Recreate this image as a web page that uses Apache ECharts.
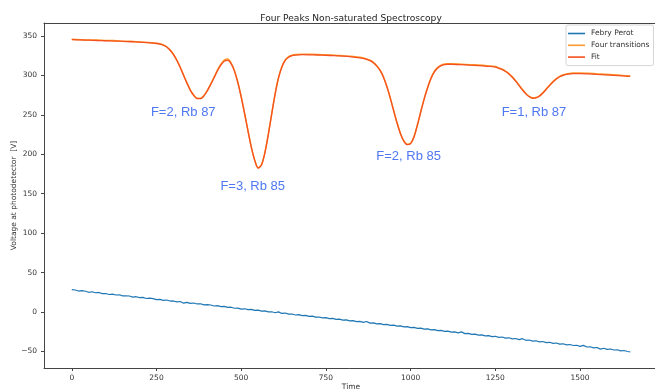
<!DOCTYPE html>
<html>
<head>
<meta charset="utf-8">
<script src="https://cdn.jsdelivr.net/npm/echarts@6/dist/echarts.min.js"></script>
<style>html,body{margin:0;padding:0;background:#fff;}#c{width:655px;height:392px;}</style>
</head>
<body>
<div id="c"></div>
<script>
// ---- Data ----
const fpTime = [0,10,20,30,40,50,60,70,80,90,100,110,120,130,140,150,160,170,180,190,
  200,210,220,230,240,250,260,270,280,290,300,310,320,330,340,350,360,370,380,390,
  400,410,420,430,440,450,460,470,480,490,500,510,520,530,540,550,560,570,580,590,
  600,610,620,630,640,650,660,670,680,690,700,710,720,730,740,750,760,770,780,790,
  800,810,820,830,840,850,860,870,880,890,900,910,920,930,940,950,960,970,980,990,
  1000,1010,1020,1030,1040,1050,1060,1070,1080,1090,1100,1110,1120,1130,1140,1150,1160,1170,1180,1190,
  1200,1210,1220,1230,1240,1250,1260,1270,1280,1290,1300,1310,1320,1330,1340,1350,1360,1370,1380,1390,
  1400,1410,1420,1430,1440,1450,1460,1470,1480,1490,1500,1510,1520,1530,1540,1550,1560,1570,1580,1590,
  1600,1610,1620,1630,1640,1648];
const fpValues = [28.4,27.9,26.6,27.2,26.3,25.0,25.7,24.4,24.8,23.3,23.5,22.2,22.7,21.6,21.9,20.4,20.6,20.3,18.9,19.4,
  18.2,18.6,17.1,17.5,16.9,15.7,16.1,14.8,15.2,13.9,14.0,12.8,13.3,11.2,12.3,10.9,11.4,10.2,10.5,9.1,
  9.3,8.9,7.6,8.0,6.8,7.1,5.9,6.1,4.8,5.0,3.7,4.1,3.0,3.3,2.0,2.3,1.1,1.4,0.1,0.3,
  -0.9,0.2,-1.8,-1.3,-2.7,-2.5,-3.8,-3.3,-4.6,-4.3,-5.6,-5.2,-6.5,-6.3,-7.5,-7.1,-8.4,-8.1,-9.4,-9.0,
  -10.3,-10.0,-11.3,-10.9,-12.2,-11.9,-13.2,-12.0,-14.1,-13.8,-15.1,-14.7,-16.0,-15.6,-17.0,-16.6,-17.9,-17.5,-18.9,-18.5,
  -19.8,-19.4,-20.8,-20.4,-21.7,-21.3,-22.7,-22.3,-23.6,-23.2,-24.5,-24.2,-25.5,-25.1,-26.4,-25.2,-27.4,-27.0,-28.3,-28.0,
  -29.3,-28.9,-30.2,-29.9,-31.2,-30.8,-32.1,-31.7,-33.1,-32.7,-34.0,-33.6,-35.0,-33.8,-35.9,-35.5,-36.9,-36.5,-37.8,-37.4,
  -38.8,-38.4,-39.7,-39.3,-40.7,-40.3,-41.6,-41.2,-42.5,-42.2,-43.5,-42.3,-44.4,-44.1,-45.4,-45.0,-47.1,-46.0,-47.3,-46.9,
  -48.2,-47.9,-49.2,-48.8,-50.1,-50.6];

const specTime = [0,25,50,75,100,125,150,175,200,225,
  250,260,270,280,290,300,310,320,330,340,
  350,360,370,380,390,400,410,420,430,440,
  450,460,470,480,490,500,510,520,530,540,
  550,560,570,580,590,600,610,620,630,640,
  650,660,680,700,725,750,775,800,825,850,
  860,870,880,890,900,910,920,930,940,950,
  960,970,980,990,1000,1010,1020,1030,1040,1050,
  1060,1070,1080,1090,1100,1110,1125,1150,1175,1200,
  1225,1250,1260,1270,1280,1290,1300,1310,1320,1330,
  1340,1350,1360,1370,1380,1390,1400,1410,1420,1430,
  1440,1450,1460,1470,1480,1500,1525,1550,1575,1600,
  1625,1648];
const fitValues = [345.3,345.0,344.7,344.3,344.0,343.6,343.2,342.7,342.2,341.5,
  340.5,339.8,338.5,336.0,332.0,326.5,319.0,310.0,300.0,290.0,
  281.0,274.5,270.5,270.5,274.0,280.5,288.5,297.0,306.0,313.0,
  318.0,319.0,315.0,305.5,291.0,272.5,251.5,229.5,208.5,192.0,
  182.5,186.5,202.0,225.0,251.0,276.0,296.5,310.5,319.0,323.0,
  325.0,325.8,326.3,326.2,325.9,325.5,325.0,324.4,323.6,322.4,
  321.6,320.4,318.7,316.0,311.8,306.0,297.5,285.5,271.0,255.0,
  239.5,226.0,216.5,212.2,213.5,222.0,237.0,254.0,270.0,284.0,
  296.0,304.5,309.5,312.5,313.8,314.2,314.1,313.6,313.0,312.4,
  311.6,310.6,309.0,307.4,305.0,301.9,297.7,292.7,287.2,281.6,
  276.6,272.9,271.0,271.4,273.6,277.5,282.2,287.1,291.7,295.4,
  298.3,300.2,301.3,302.0,302.3,302.4,302.0,301.4,300.8,300.1,
  299.4,298.7];
const dataValues = [346.0,345.4,344.9,345.1,344.3,344.2,343.5,343.3,342.5,341.9,
  340.9,340.3,338.7,336.4,332.5,326.9,319.6,310.4,300.5,290.6,
  281.4,275.1,271.0,271.1,274.5,281.1,289.1,297.8,307.0,314.3,
  319.6,320.8,316.0,306.2,291.5,273.0,252.0,230.0,209.0,192.6,
  183.0,187.0,202.6,225.5,251.6,276.6,297.2,311.2,319.8,323.8,
  325.6,326.5,327.0,326.8,326.6,326.1,325.7,325.0,324.3,323.0,
  322.2,321.0,319.3,316.6,312.3,306.6,298.0,286.0,271.5,255.5,
  240.0,226.5,217.0,212.8,214.0,222.5,237.5,254.5,270.6,284.6,
  296.6,305.1,310.2,313.1,314.5,314.8,314.8,314.3,313.7,313.1,
  312.3,311.2,309.6,308.0,305.6,302.5,298.3,293.3,287.8,282.2,
  277.2,273.5,271.6,272.0,274.2,278.1,282.8,287.7,292.3,296.0,
  298.9,300.8,302.0,302.6,303.0,303.0,302.7,302.0,301.5,300.8,
  300.0,299.2];

const xTicks = [0,250,500,750,1000,1250,1500];
const yTicks = [-50,0,50,100,150,200,250,300,350];

const labelText = ['F=2, Rb 87','F=3, Rb 85','F=2, Rb 85','F=1, Rb 87'];
const labelX = [235,440,900,1270];
const labelY = [244,151,189,244];

const seriesNames = ['Febry Perot','Four transitions','Fit'];
const seriesColors = ['#1f77b4','#ff9a2e','#f4511e'];

// ---- Build ----
const zip = (xs, ys) => xs.map((x, i) => [x, ys[i]]);
const axisFont = {fontFamily:'DejaVu Sans', fontSize:7.5, color:'#333'};

const chart = echarts.init(document.getElementById('c'), null, {renderer:'canvas'});
chart.setOption({
  animation:false,
  backgroundColor:'#fff',
  title:{text:'Four Peaks Non-saturated Spectroscopy', left:346, textAlign:'center', top:9,
    textStyle:{fontFamily:'DejaVu Sans', fontSize:9.1, fontWeight:'normal', color:'#222'}},
  legend:{data:seriesNames.map(n => ({name:n, icon:'rect'})), orient:'vertical', left:566, top:25, padding:[4,4,4,2],
    itemWidth:17, itemHeight:1.6, itemGap:2.8,
    backgroundColor:'rgba(255,255,255,0.8)', borderColor:'#d5d5d5', borderWidth:1, borderRadius:2,
    textStyle:{fontFamily:'DejaVu Sans', fontSize:7.5, color:'#333', padding:[0,0,0,1], lineHeight:9}},
  grid:{left:44, right:-3, top:23, bottom:24, containLabel:false, outerBoundsMode:'none'},
  xAxis:[{type:'value', min:-82, max:1730, minInterval:250, maxInterval:250,
    name:'Time', nameLocation:'middle', nameGap:15, nameMoveOverlap:false, nameTextStyle:axisFont,
    axisLine:{show:true, onZero:false, lineStyle:{color:'#444', width:1}},
    axisTick:{show:true, length:3, lineStyle:{color:'#444'}},
    axisLabel:Object.assign({margin:6, showMinLabel:false, showMaxLabel:false,
      formatter:v => xTicks.includes(v) ? String(v) : ''}, axisFont),
    splitLine:{show:false}},
   {type:'value', position:'top', min:-82, max:1730, axisLine:{show:true, onZero:false, lineStyle:{color:'#444', width:1}},
    axisTick:{show:false}, axisLabel:{show:false}, splitLine:{show:false}}],
  yAxis:{type:'value', min:-71, max:366.5, minInterval:50, maxInterval:50,
    name:'Voltage at photodetector  [V]', nameLocation:'middle', nameGap:26, nameMoveOverlap:false, nameRotate:90,
    nameTextStyle:axisFont,
    axisLine:{show:true, onZero:false, lineStyle:{color:'#444', width:1}},
    axisTick:{show:true, length:3, lineStyle:{color:'#444'}},
    axisLabel:Object.assign({margin:7, showMinLabel:false, showMaxLabel:false,
      formatter:v => yTicks.includes(v) ? (v < 0 ? '\u2212' + Math.abs(v) : String(v)) : ''}, axisFont),
    splitLine:{show:false}},
  series:[
    {name:seriesNames[0], type:'line', data:zip(fpTime, fpValues), symbol:'none',
      lineStyle:{color:seriesColors[0], width:1.2}, itemStyle:{color:seriesColors[0]}},
    {name:seriesNames[1], type:'line', data:zip(specTime, dataValues), symbol:'none', smooth:0.3,
      lineStyle:{color:seriesColors[1], width:1.5}, itemStyle:{color:seriesColors[1]}},
    {name:seriesNames[2], type:'line', data:zip(specTime, fitValues), symbol:'none', smooth:0.3,
      lineStyle:{color:seriesColors[2], width:1.3}, itemStyle:{color:seriesColors[2]}},
    {name:'labels', type:'scatter', silent:true, symbolSize:1, itemStyle:{color:'rgba(0,0,0,0)'},
      data:labelText.map((t, i) => ({value:[labelX[i], labelY[i]], name:t})),
      label:{show:true, position:[0,0], align:'left', verticalAlign:'bottom',
        formatter:p => p.name, fontFamily:'Liberation Sans', fontSize:13, color:'#2255ee'}}
  ]
});
</script>
</body>
</html>
